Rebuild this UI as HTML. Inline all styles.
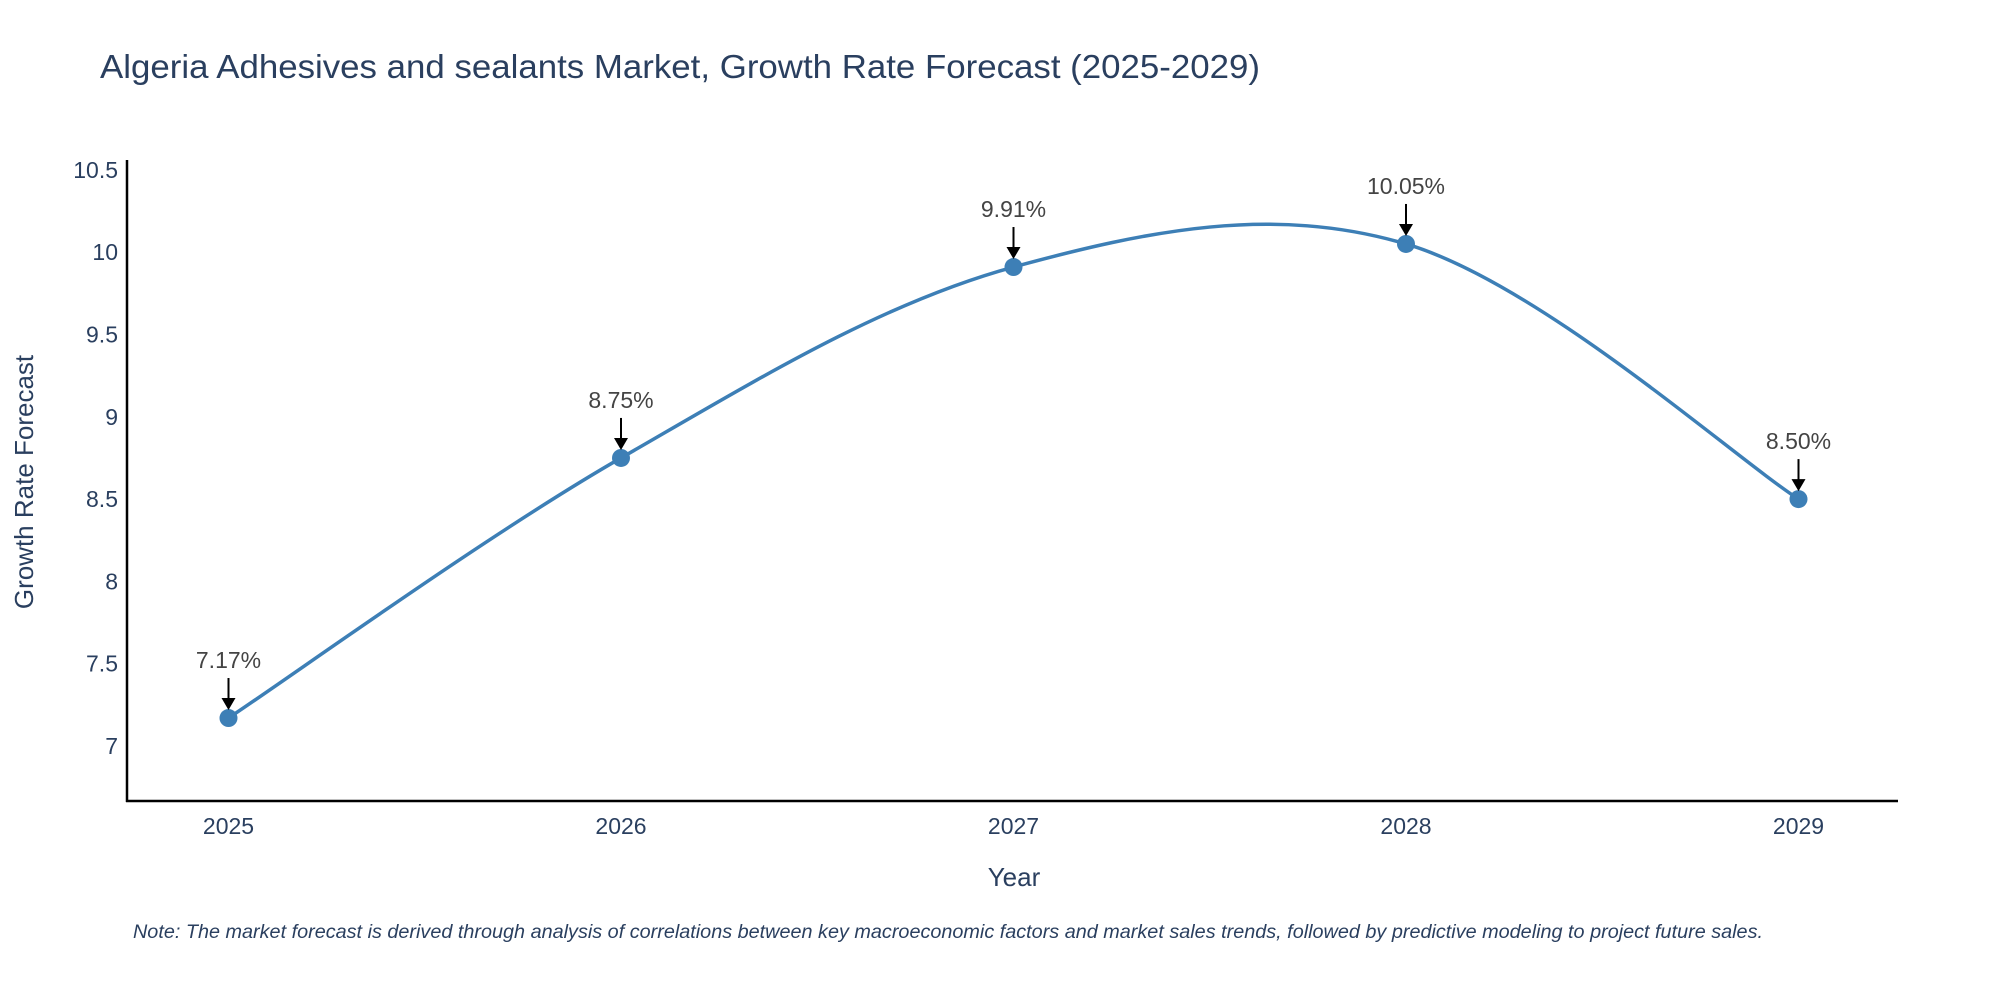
<!DOCTYPE html>
<html><head><meta charset="utf-8"><style>
body{margin:0;background:#fff;}
svg{display:block;font-family:"Liberation Sans",sans-serif;}
</style></head><body>
<svg id="chart" width="2000" height="1000" viewBox="0 0 2000 1000">
<text x="100" y="78" font-size="33" fill="#2a3f5f" textLength="1160" lengthAdjust="spacingAndGlyphs">Algeria Adhesives and sealants Market, Growth Rate Forecast (2025-2029)</text>
<g id="yticks"></g>
<g id="xticks"></g>
<line x1="127" y1="160" x2="127" y2="802" stroke="#000" stroke-width="2.5"/>
<line x1="126" y1="801" x2="1898" y2="801" stroke="#000" stroke-width="2.5"/>
<text transform="translate(33,482) rotate(-90)" text-anchor="middle" font-size="26" fill="#2a3f5f">Growth Rate Forecast</text>
<text x="1014" y="886" text-anchor="middle" font-size="26" fill="#2a3f5f">Year</text>
<path id="line" fill="none" stroke="#3d7fb6" stroke-width="3.5"/>
<g id="points"></g>
<text x="133" y="938" font-size="19" font-style="italic" fill="#2a3f5f" textLength="1630" lengthAdjust="spacingAndGlyphs">Note: The market forecast is derived through analysis of correlations between key macroeconomic factors and market sales trends, followed by predictive modeling to project future sales.</text>
</svg>
<script>
const years = [2025, 2026, 2027, 2028, 2029];
const values = [7.17, 8.75, 9.91, 10.05, 8.50];
const labels = ["7.17%", "8.75%", "9.91%", "10.05%", "8.50%"];
const yTicks = [7, 7.5, 8, 8.5, 9, 9.5, 10, 10.5];
const yTickLabels = ["7", "7.5", "8", "8.5", "9", "9.5", "10", "10.5"];

const NS = "http://www.w3.org/2000/svg";
function xS(v){ return 228.5 + (v - 2025) * 392.5; }
function yS(v){ return 746 - (v - 7) * 164.6; }
function mk(tag, attrs, parent){ const e=document.createElementNS(NS,tag); for(const k in attrs) e.setAttribute(k,attrs[k]); parent.appendChild(e); return e; }

const yg=document.getElementById('yticks');
yTicks.forEach((t,i)=>{
  const el=mk('text',{x:118,y:yS(t)+8,'text-anchor':'end','font-size':23,fill:'#2a3f5f'},yg);
  el.textContent=yTickLabels[i];
  
  
});
const xg=document.getElementById('xticks');
years.forEach(y=>{
  const el=mk('text',{x:xS(y),y:834,'text-anchor':'middle','font-size':23,fill:'#2a3f5f'},xg);
  el.textContent=String(y);
  
  
});

const pts=years.map((y,i)=>[xS(y),yS(values[i])]);
let d=`M${pts[0][0]},${pts[0][1]}`;
const s=0.17;
for(let i=0;i<pts.length-1;i++){
  const p0=pts[i-1]||pts[i], p1=pts[i], p2=pts[i+1], p3=pts[i+2]||pts[i+1];
  const c1=[p1[0]+(p2[0]-p0[0])*s, p1[1]+(p2[1]-p0[1])*s];
  const c2=[p2[0]-(p3[0]-p1[0])*s, p2[1]-(p3[1]-p1[1])*s];
  d+=` C${c1[0]},${c1[1]} ${c2[0]},${c2[1]} ${p2[0]},${p2[1]}`;
}
document.getElementById('line').setAttribute('d',d);

const pg=document.getElementById('points');
pts.forEach((p,i)=>{
  const c=mk('circle',{cx:p[0],cy:p[1],r:9,fill:'#3d7fb6'},pg);
  
  
  const a=mk('line',{x1:p[0],y1:p[1]-40,x2:p[0],y2:p[1]-16,stroke:'#000','stroke-width':2},pg);
  
  
  const h=mk('polygon',{points:`${p[0]-7},${p[1]-20} ${p[0]+7},${p[1]-20} ${p[0]},${p[1]-8}`,fill:'#000'},pg);
  
  
  const t=mk('text',{x:p[0],y:p[1]-50,'text-anchor':'middle','font-size':23,fill:'#444'},pg);
  t.textContent=labels[i];
  
  
});
</script>
</body></html>
